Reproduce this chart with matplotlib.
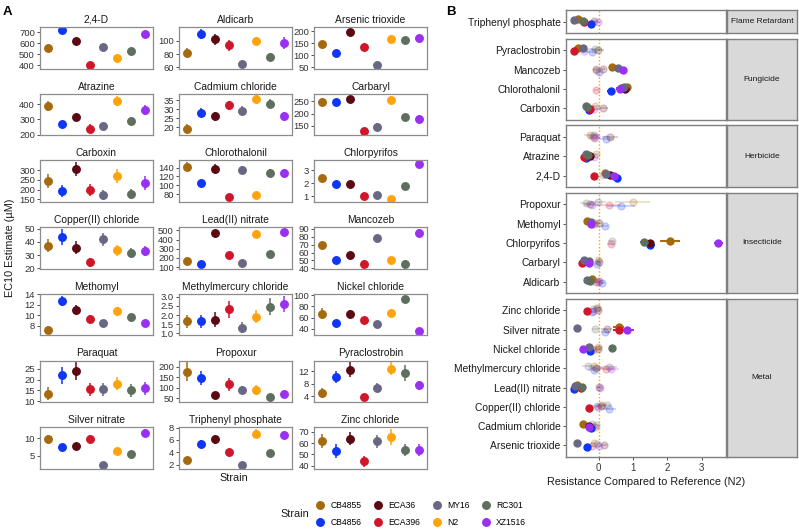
import numpy as np
import matplotlib
matplotlib.use('Agg')
import matplotlib.pyplot as plt
from matplotlib.ticker import FixedLocator

plt.rcParams['font.family'] = ['Liberation Sans', 'DejaVu Sans']

compounds = ['2,4-D', 'Aldicarb', 'Arsenic trioxide', 'Atrazine', 'Cadmium chloride', 'Carbaryl',
             'Carboxin', 'Chlorothalonil', 'Chlorpyrifos', 'Copper(II) chloride', 'Lead(II) nitrate',
             'Mancozeb', 'Methomyl', 'Methylmercury chloride', 'Nickel chloride', 'Paraquat',
             'Propoxur', 'Pyraclostrobin', 'Silver nitrate', 'Triphenyl phosphate', 'Zinc chloride']
compound_class = ['Herbicide', 'Insecticide', 'Metal', 'Herbicide', 'Metal', 'Insecticide',
                  'Fungicide', 'Fungicide', 'Insecticide', 'Metal', 'Metal',
                  'Fungicide', 'Insecticide', 'Metal', 'Metal', 'Herbicide',
                  'Insecticide', 'Fungicide', 'Metal', 'Flame Retardant', 'Metal']
class_order = ['Flame Retardant', 'Fungicide', 'Herbicide', 'Insecticide', 'Metal']

strains = ['CB4855', 'CB4856', 'ECA36', 'ECA396', 'MY16', 'N2', 'RC301', 'XZ1516']
colors = ['#A66A0E', '#0F35F5', '#5A0A12', '#D0162B', '#686884', '#FFA30D', '#5E6F5E', '#9A30F2']

# EC10 estimates (uM), one list per strain, in compound order
ec_CB4855 = [555, 82, 145, 390, 19, 248, 245, 142, 2.4, 37, 170, 70, 7.2, 1.65, 67, 13.5, 175, 5.0, 9.8, 2.8, 62]
ec_CB4856 = [720, 110, 110, 270, 28, 245, 193, 105, 1.95, 44, 130, 50, 12.7, 1.65, 51, 22, 145, 10.2, 7.4, 5.4, 53]
ec_ECA36 = [620, 102, 195, 315, 26, 258, 305, 138, 1.95, 35.5, 470, 57, 11.0, 1.75, 67, 24, 65, 12.5, 7.7, 6.1, 64]
ec_ECA396 = [400, 93, 135, 240, 32, 130, 200, 73, 1.05, 24.5, 230, 46, 9.3, 2.3, 56, 15.5, 115, 3.8, 9.8, 4.1, 44]
ec_MY16 = [570, 65, 60, 260, 29, 145, 172, 135, 1.08, 42, 150, 78, 8.4, 1.3, 48, 15.5, 87, 6.8, 2.3, 1.95, 61.5]
ec_N2 = [470, 100, 168, 420, 35.5, 255, 270, 78, 0.78, 33.5, 465, 50, 10.8, 1.9, 68, 18, 88, 12.8, 6.2, 7.0, 65.5]
ec_RC301 = [530, 76, 162, 290, 33, 185, 178, 128, 1.8, 31.5, 245, 46, 9.6, 2.45, 94, 15, 55, 11.5, 5.6, 3.9, 54]
ec_XZ1516 = [685, 97, 170, 360, 26, 180, 235, 127, 3.5, 33, 480, 85, 8.4, 2.6, 37, 16, 70, 7.5, 11.4, 6.8, 54]

# half-widths of the confidence intervals
err_CB4855 = [12, 7, 12, 32, 2.5, 15, 35, 10, 0.22, 5, 30, 4, 0.7, 0.35, 10, 3, 45, 1.5, 1.0, 0.4, 6]
err_CB4856 = [12, 8, 10, 18, 2.5, 15, 30, 8, 0.10, 6, 25, 3, 1.0, 0.35, 5, 4, 35, 2.0, 0.8, 0.6, 6]
err_ECA36 = [12, 8, 15, 22, 2.5, 15, 35, 10, 0.08, 5, 30, 3, 0.9, 0.40, 6, 4, 15, 2.3, 1.0, 0.7, 6]
err_ECA396 = [12, 8, 12, 30, 2.5, 10, 30, 6, 0.08, 3.5, 30, 4, 0.8, 0.45, 5, 3, 30, 1.0, 1.0, 0.4, 5]
err_MY16 = [12, 4, 8, 18, 2.5, 15, 25, 8, 0.08, 5, 20, 3, 0.7, 0.30, 4, 3, 20, 1.5, 0.5, 0.3, 6]
err_N2 = [12, 6, 12, 35, 2.0, 15, 35, 6, 0.05, 4, 40, 3, 0.8, 0.35, 6, 3, 25, 2.0, 0.6, 0.75, 7]
err_RC301 = [12, 6, 12, 18, 2.5, 15, 25, 10, 0.08, 4, 25, 4, 0.7, 0.45, 5, 3, 15, 2.5, 0.6, 0.5, 5]
err_XZ1516 = [12, 9, 15, 32, 2.5, 15, 35, 10, 0.10, 4, 35, 5, 0.7, 0.45, 5, 3, 20, 1.5, 1.2, 0.6, 5]

# significant difference from N2 (1) or not (0), per strain, in compound order
sig_CB4855 = [1, 1, 0, 0, 1, 0, 0, 1, 1, 0, 1, 1, 1, 0, 0, 0, 0, 1, 1, 1, 0]
sig_CB4856 = [1, 0, 1, 1, 1, 0, 1, 1, 1, 0, 1, 0, 0, 0, 1, 0, 0, 0, 0, 1, 0]
sig_ECA36 = [1, 0, 0, 1, 1, 0, 0, 1, 1, 0, 0, 0, 0, 0, 0, 0, 0, 0, 0, 0, 0]
sig_ECA396 = [1, 0, 0, 1, 0, 1, 1, 0, 0, 1, 1, 0, 0, 0, 0, 0, 0, 1, 1, 1, 1]
sig_MY16 = [1, 1, 1, 1, 0, 1, 1, 1, 0, 0, 1, 1, 1, 0, 1, 0, 0, 1, 1, 1, 0]
sig_RC301 = [0, 1, 0, 1, 0, 1, 1, 1, 1, 0, 1, 0, 0, 0, 1, 0, 0, 0, 0, 1, 0]
sig_XZ1516 = [1, 0, 0, 0, 1, 1, 0, 1, 1, 0, 0, 1, 1, 0, 1, 0, 0, 0, 1, 0, 0]

y_ticks = [[400, 500, 600, 700], [60, 80, 100], [50, 100, 150, 200], [200, 300, 400],
           [15, 20, 25, 30, 35], [150, 200, 250], [150, 200, 250, 300, 350], [80, 100, 120, 140],
           [1, 2, 3], [20, 30, 40, 50], [100, 200, 300, 400, 500], [40, 50, 60, 70, 80, 90],
           [8, 10, 12, 14], [1.0, 1.5, 2.0, 2.5, 3.0], [40, 60, 80, 100], [10, 15, 20, 25],
           [50, 100, 150, 200], [4, 8, 12], [5, 10], [2, 4, 6, 8], [40, 50, 60, 70]]

ec = {'CB4855': ec_CB4855, 'CB4856': ec_CB4856, 'ECA36': ec_ECA36, 'ECA396': ec_ECA396,
      'MY16': ec_MY16, 'N2': ec_N2, 'RC301': ec_RC301, 'XZ1516': ec_XZ1516}
err = {'CB4855': err_CB4855, 'CB4856': err_CB4856, 'ECA36': err_ECA36, 'ECA396': err_ECA396,
       'MY16': err_MY16, 'N2': err_N2, 'RC301': err_RC301, 'XZ1516': err_XZ1516}
sig = {'CB4855': sig_CB4855, 'CB4856': sig_CB4856, 'ECA36': sig_ECA36, 'ECA396': sig_ECA396,
       'MY16': sig_MY16, 'RC301': sig_RC301, 'XZ1516': sig_XZ1516}

W, H = 799, 531
fig = plt.figure(figsize=(W / 100, H / 100), dpi=100)


def rect(x0, y0, w, h):
    return [x0 / W, 1 - (y0 + h) / H, w / W, h / H]


spine_col = '#8C8C8C'
text_col = '#1A1A1A'
tick_col = '#333333'

# ---------------- Panel A ----------------
col_x = [40, 179, 314]
handles = []
for i, comp in enumerate(compounds):
    r, c = divmod(i, 3)
    ax = fig.add_axes(rect(col_x[c], 27 + r * 66.7, 113, 41.5))
    for j, s in enumerate(strains):
        h = ax.errorbar(j + 1, ec[s][i], yerr=err[s][i], fmt='o', color=colors[j],
                        ms=5.4, elinewidth=1.1, capsize=0, label=s)
        if i == 0:
            handles.append(h)
    ax.set_xlim(0.4, 8.6)
    ax.set_xticks([])
    ax.yaxis.set_major_locator(FixedLocator(y_ticks[i]))
    ax.set_title(comp, fontsize=7.4, pad=3, color=text_col)
    ax.tick_params(axis='y', length=2.5, width=0.6, color=tick_col, labelsize=6.8,
                   pad=1.2, labelcolor=tick_col)
    for sp in ax.spines.values():
        sp.set_color(spine_col)
        sp.set_linewidth(0.9)

fig.text(234 / W, 1 - 478 / H, 'Strain', ha='center', va='center', fontsize=7.8, color=text_col)
fig.text(10 / W, 1 - 248 / H, 'EC10 Estimate (\u00b5M)', ha='center', va='center',
         rotation=90, fontsize=7.8, color=text_col)
fig.text(3 / W, 1 - 12 / H, 'A', fontsize=9.5, fontweight='bold', va='center')
fig.text(446 / W, 1 - 12 / H, 'B', fontsize=9.5, fontweight='bold', va='center')

# ---------------- Panel B ----------------
jitter = {'CB4855': 0.12, 'CB4856': -0.10, 'ECA36': 0.02, 'ECA396': -0.04,
          'MY16': 0.10, 'RC301': 0.05, 'XZ1516': -0.02}
u, gap, top = 19.3, 5.6, 10
y_cur = top
axes_b = []
for k, cls in enumerate(class_order):
    comps = sorted([cmp for cmp, cl in zip(compounds, compound_class) if cl == cls])
    n = len(comps)
    hpx = (n + 0.2) * u
    ax = fig.add_axes(rect(566, y_cur, 160, hpx), sharex=axes_b[0] if axes_b else None)
    sax = fig.add_axes(rect(727, y_cur, 70, hpx))
    y_cur += hpx + gap
    axes_b.append(ax)
    ax.axvline(0, color='#FFA500', ls=(0, (1, 1.5)), lw=1.0, zorder=1)
    for alpha_pass in (0, 1):
        for yi, cmp in enumerate(comps):
            i = compounds.index(cmp)
            ref = ec_N2[i]
            for j, s in enumerate(strains):
                if s == 'N2':
                    continue
                if sig[s][i] != alpha_pass:
                    continue
                val = (ec[s][i] - ref) / ref
                e = err[s][i] / ref
                a = 1.0 if alpha_pass else 0.2
                ax.errorbar(val, yi + 1 + jitter[s], xerr=e, fmt='o', color=colors[j],
                            ms=5.0, elinewidth=1.4, capsize=0, alpha=a, zorder=2 + alpha_pass)
    ax.set_ylim(0.4, n + 0.6)
    ax.set_yticks(range(1, n + 1))
    ax.set_yticklabels(comps)
    ax.tick_params(axis='y', length=2.5, width=0.6, color=tick_col, labelsize=7.4,
                   pad=1.5, labelcolor=text_col)
    for sp in ax.spines.values():
        sp.set_color('#7F7F7F')
        sp.set_linewidth(1.0)
    if cls != class_order[-1]:
        ax.tick_params(axis='x', bottom=False, labelbottom=False)
    else:
        ax.set_xticks([0, 1, 2, 3])
        ax.tick_params(axis='x', length=2.5, width=0.6, color=tick_col, labelsize=7.0,
                       pad=1.5, labelcolor=tick_col)
        ax.set_xlabel('Resistance Compared to Reference (N2)', fontsize=7.8, color=text_col,
                      labelpad=3)
    sax.set_facecolor('#D9D9D9')
    sax.set_xticks([])
    sax.set_yticks([])
    for sp in sax.spines.values():
        sp.set_color('#7F7F7F')
        sp.set_linewidth(1.0)
    sax.text(0.5, 0.5, cls, ha='center', va='center', fontsize=6.0, color=text_col,
             transform=sax.transAxes)
axes_b[0].set_xlim(-0.95, 3.71)

# ---------------- Legend ----------------
fig.text(280 / W, 1 - 514 / H, 'Strain', ha='left', va='center', fontsize=7.8, color=text_col)
fig.legend(handles, strains, ncol=4, loc='center left', bbox_to_anchor=(310 / W, 1 - 514 / H),
           frameon=False, fontsize=6.2, handlelength=1.0, handletextpad=0.7,
           columnspacing=1.4, labelspacing=0.9, borderpad=0.2)

fig.savefig('out.png', dpi=100)
